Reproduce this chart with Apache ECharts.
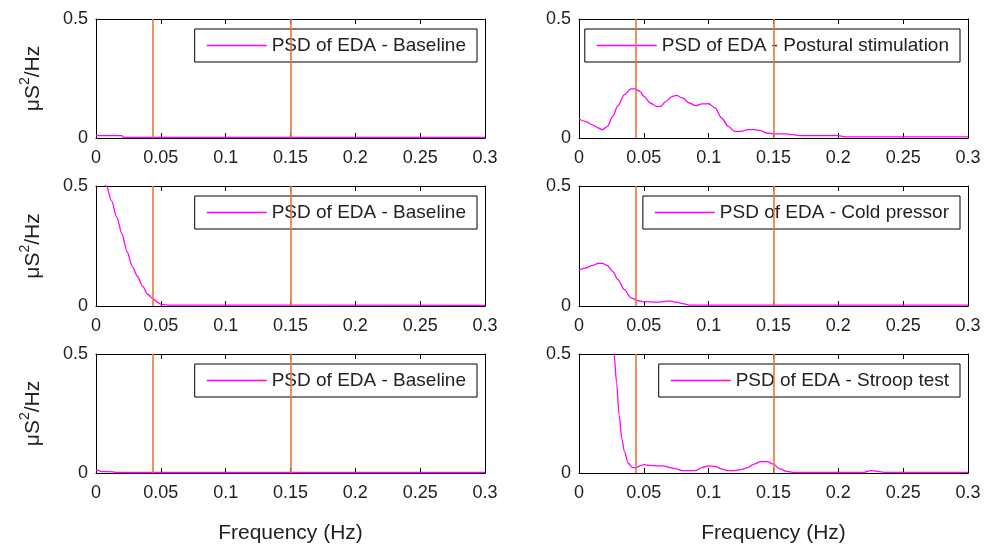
<!DOCTYPE html>
<html>
<head>
<meta charset="utf-8">
<script src="https://cdn.jsdelivr.net/npm/echarts@6/dist/echarts.min.js"></script>
<style>
  html, body { margin: 0; padding: 0; background: #fff; }
  #main { width: 984px; height: 546px; }
</style>
</head>
<body>
<div id="main"></div>
<script>
var dom = document.getElementById('main');
var myChart = echarts.init(dom);

// band limits drawn as vertical lines (Hz)
var bandEdges = [0.044, 0.15];

// row 1 left - baseline
var base1Name = 'PSD of EDA - Baseline';
var base1F = [0, 0.02, 0.021, 0.3];
var base1P = [0.01, 0.01, 0.002, 0.002];

// row 1 right - postural stimulation
var postName = 'PSD of EDA - Postural stimulation';
var postF = [0, 0.005, 0.01, 0.015, 0.018, 0.022, 0.026, 0.03, 0.035, 0.04, 0.043, 0.047, 0.05, 0.055, 0.06, 0.063,
  0.067, 0.072, 0.075, 0.08, 0.085, 0.09, 0.095, 0.1, 0.105, 0.11, 0.115, 0.12, 0.125, 0.13, 0.135, 0.14, 0.145,
  0.15, 0.16, 0.165, 0.17, 0.2, 0.205, 0.3];
var postP = [0.080, 0.070, 0.056, 0.042, 0.035, 0.049, 0.091, 0.136, 0.182, 0.206, 0.206, 0.196, 0.175, 0.147, 0.133, 0.133,
  0.154, 0.175, 0.179, 0.168, 0.147, 0.136, 0.143, 0.144, 0.126, 0.084, 0.049, 0.028, 0.028, 0.035, 0.035, 0.031, 0.021,
  0.017, 0.017, 0.014, 0.010, 0.010, 0.005, 0.005];

// row 2 left - baseline
var base2Name = 'PSD of EDA - Baseline';
var base2F = [0, 0.008, 0.012, 0.016, 0.02, 0.024, 0.028, 0.032, 0.036, 0.04, 0.044, 0.048, 0.05, 0.055, 0.3];
var base2P = [0.63, 0.50, 0.438, 0.37, 0.301, 0.226, 0.164, 0.123, 0.082, 0.048, 0.030, 0.014, 0.007, 0.004, 0.003];

// row 2 right - cold pressor
var coldName = 'PSD of EDA - Cold pressor';
var coldF = [0, 0.005, 0.01, 0.015, 0.018, 0.022, 0.026, 0.03, 0.035, 0.04, 0.045, 0.05, 0.06, 0.07, 0.075, 0.08, 0.085, 0.3];
var coldP = [0.151, 0.158, 0.168, 0.178, 0.178, 0.168, 0.144, 0.110, 0.068, 0.034, 0.023, 0.018, 0.016, 0.021, 0.016, 0.010, 0.004, 0.004];

// row 3 left - baseline
var base3Name = 'PSD of EDA - Baseline';
var base3F = [0, 0.002, 0.004, 0.013, 0.015, 0.3];
var base3P = [0.013, 0.011, 0.006, 0.005, 0.002, 0.002];

// row 3 right - stroop test
var stroopName = 'PSD of EDA - Stroop test';
var stroopF = [0, 0.02, 0.025, 0.027, 0.029, 0.031, 0.033, 0.035, 0.038, 0.041, 0.044, 0.047, 0.05, 0.055, 0.06, 0.065,
  0.07, 0.075, 0.08, 0.09, 0.095, 0.1, 0.105, 0.11, 0.115, 0.12, 0.125, 0.13, 0.135, 0.14, 0.145, 0.15, 0.155, 0.16,
  0.165, 0.22, 0.225, 0.23, 0.235, 0.3];
var stroopP = [2.0, 1.2, 0.75, 0.50, 0.38, 0.242, 0.145, 0.090, 0.041, 0.023, 0.023, 0.030, 0.035, 0.032, 0.030, 0.030,
  0.023, 0.017, 0.010, 0.010, 0.023, 0.030, 0.028, 0.017, 0.010, 0.010, 0.014, 0.023, 0.037, 0.048, 0.048, 0.037, 0.017, 0.007,
  0.003, 0.003, 0.010, 0.007, 0.003, 0.003];

var plots = [
  { name: base1Name, f: base1F, p: base1P },
  { name: postName, f: postF, p: postP },
  { name: base2Name, f: base2F, p: base2P },
  { name: coldName, f: coldF, p: coldP },
  { name: base3Name, f: base3F, p: base3P },
  { name: stroopName, f: stroopF, p: stroopP }
];

var font = 'Liberation Sans, Arial, sans-serif';
var lefts = [96, 579];
var tops = [19, 186, 354];
var heights = [119, 120, 119];
var legendRight = [507, 24];

var zip = function (f, p) {
  var res = [];
  for (var i = 0; i < f.length; i++) res.push([f[i], p[i]]);
  return res;
};

var grids = [], xAxes = [], yAxes = [], series = [], legends = [];
for (var i = 0; i < plots.length; i++) {
  var row = Math.floor(i / 2), col = i % 2;
  grids.push({ left: lefts[col], top: tops[row], width: 389, height: heights[row], containLabel: false });
  var isBottom = row === 2;
  // bottom x axis with labels
  xAxes.push({
    type: 'value', gridIndex: i, min: 0, max: 0.3, interval: 0.05, position: 'bottom',
    name: isBottom ? 'Frequency (Hz)' : '', nameLocation: 'middle', nameGap: 50,
    nameTextStyle: { fontFamily: font, fontSize: 21, color: '#222' },
    axisLine: { show: true, onZero: false, lineStyle: { color: '#000', width: 1 } },
    axisTick: { show: true, inside: true, length: 5, lineStyle: { color: '#000' } },
    axisLabel: { show: true, margin: 11, fontFamily: font, fontSize: 18, color: '#222',
      showMinLabel: true, showMaxLabel: true },
    splitLine: { show: false }
  });
  // top x axis (box + ticks only)
  xAxes.push({
    type: 'value', gridIndex: i, min: 0, max: 0.3, interval: 0.05, position: 'top',
    axisLine: { show: true, onZero: false, lineStyle: { color: '#000', width: 1 } },
    axisTick: { show: true, inside: true, length: 5, lineStyle: { color: '#000' } },
    axisLabel: { show: false }, splitLine: { show: false }
  });
  yAxes.push({
    type: 'value', gridIndex: i, min: 0, max: 0.5, interval: 0.5, position: 'left',
    name: col === 0 ? '{a|μS}{s|2}{a|/Hz}' : '', nameLocation: 'middle', nameGap: 52, nameRotate: 90,
    nameTextStyle: {
      fontFamily: font, fontSize: 21, color: '#222',
      rich: {
        a: { fontFamily: font, fontSize: 21, color: '#222', lineHeight: 26, verticalAlign: 'bottom' },
        s: { fontFamily: font, fontSize: 14, color: '#222', lineHeight: 26, verticalAlign: 'top' }
      }
    },
    axisLine: { show: true, onZero: false, lineStyle: { color: '#000', width: 1 } },
    axisTick: { show: true, inside: true, length: 5, lineStyle: { color: '#000' } },
    axisLabel: { show: true, margin: 8, fontFamily: font, fontSize: 18, color: '#222' },
    splitLine: { show: false }
  });
  yAxes.push({
    type: 'value', gridIndex: i, min: 0, max: 0.5, interval: 0.5, position: 'right',
    axisLine: { show: true, onZero: false, lineStyle: { color: '#000', width: 1 } },
    axisTick: { show: true, inside: true, length: 5, lineStyle: { color: '#000' } },
    axisLabel: { show: false }, splitLine: { show: false }
  });
  series.push({
    name: plots[i].name,
    type: 'line',
    xAxisIndex: 2 * i,
    yAxisIndex: 2 * i,
    data: zip(plots[i].f, plots[i].p),
    showSymbol: false,
    symbol: 'none',
    smooth: 0.3,
    smoothMonotone: 'x',
    clip: true,
    lineStyle: { color: '#ff00ff', width: 1.3 },
    itemStyle: { color: '#ff00ff' },
    markLine: {
      silent: true,
      symbol: 'none',
      precision: 4,
      animation: false,
      label: { show: false },
      lineStyle: { color: '#ec7634', width: 1.6, type: 'solid' },
      data: bandEdges.map(function (b) { return { xAxis: b }; })
    }
  });
  legends.push({
    data: [plots[i].name],
    right: legendRight[col],
    top: tops[row] + 10,
    orient: 'horizontal',
    selectedMode: false,
    icon: 'rect',
    itemWidth: 60,
    itemHeight: 1.5,
    padding: [7, 11, 7, 12],
    borderColor: '#000',
    borderWidth: 1,
    borderRadius: 0,
    backgroundColor: '#fff',
    textStyle: { fontFamily: font, fontSize: 19, color: '#222' }
  });
}

var option = {
  backgroundColor: '#fff',
  animation: false,
  grid: grids,
  xAxis: xAxes,
  yAxis: yAxes,
  legend: legends,
  series: series
};
myChart.setOption(option, true);
</script>
</body>
</html>
